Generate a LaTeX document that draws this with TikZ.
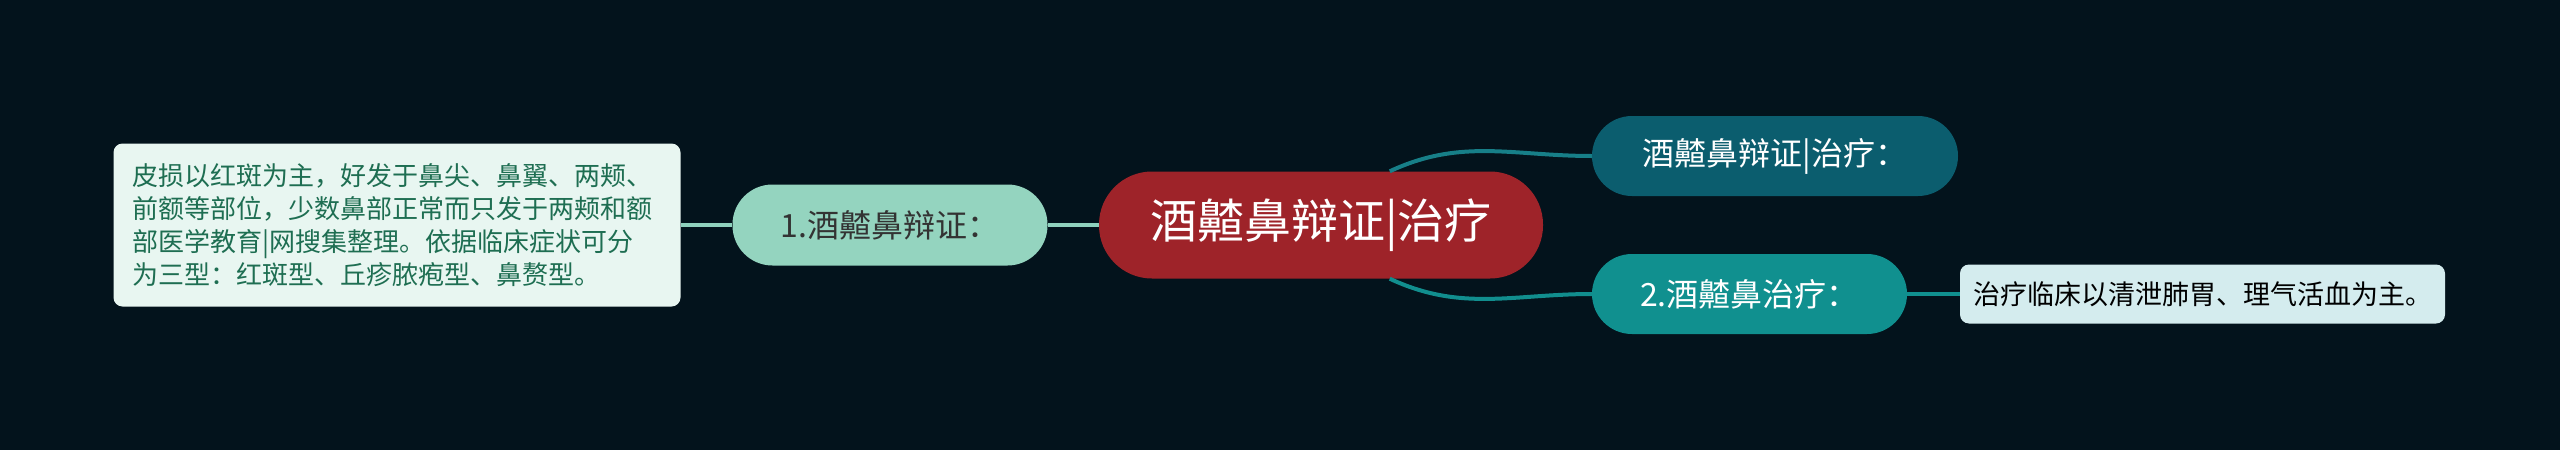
\documentclass[tikz,border=0pt]{standalone}
\usepackage{fontspec}
\setmainfont{Noto Sans CJK SC}
\usetikzlibrary{positioning}

\definecolor{bgdark}{HTML}{03131C}
\definecolor{rootred}{HTML}{9E2329}
\definecolor{mint}{HTML}{94D4BF}
\definecolor{mintline}{HTML}{8FD1BD}
\definecolor{darkteal}{HTML}{0B5D6E}
\definecolor{teal}{HTML}{10908F}
\definecolor{tealline}{HTML}{177F88}
\definecolor{boxfill}{HTML}{E8F6F1}
\definecolor{boxtext}{HTML}{1E6E52}
\definecolor{leaffill}{HTML}{D4ECEE}

\begin{document}
\begin{tikzpicture}[x=1pt,y=-1pt,node distance=400pt,on grid,
    topic/.style={rounded corners=#1,inner sep=0pt,font=\fontsize{32}{38}\selectfont},
    note/.style={rounded corners=9pt,inner ysep=0pt,align=left}]
    \fill[bgdark] (0,0) rectangle (2560,450);
    \useasboundingbox (0,0) rectangle (2560,450);
    \node[topic=53pt,fill=rootred,text=white,minimum width=444pt,minimum height=107pt,
          font=\fontsize{47}{52}\selectfont] (r_0) at (1321,225) {酒齄鼻辩证|治疗};
    \node[topic=40pt,fill=mint,text=black!80,minimum width=315pt,minimum height=81pt]
          (b_1) [left=431pt of r_0] {1.酒齄鼻辩证：};
    \node[note,fill=boxfill,text=boxtext,text width=530pt,inner xsep=18.5pt,minimum height=163pt,
          font=\fontsize{26}{33}\selectfont] (t_1) [left=493pt of b_1]
          {皮损以红斑为主，好发于鼻尖、鼻翼、两颊、\\前额等部位，少数鼻部正常而只发于两颊和额\\部医学教育|网搜集整理。依据临床症状可分\\为三型：红斑型、丘疹脓疱型、鼻赘型。};
    \node[topic=40pt,fill=darkteal,text=white,minimum width=366pt,minimum height=80pt]
          (b_2) [above right=69pt and 454pt of r_0] {酒齄鼻辩证|治疗：};
    \node[topic=40pt,fill=teal,text=white,minimum width=315pt,minimum height=80pt]
          (b_3) [below right=69pt and 428.5pt of r_0] {2.酒齄鼻治疗：};
    \node[note,fill=leaffill,text=black,minimum width=485pt,minimum height=59pt,
          font=\fontsize{27}{32}\selectfont] (t_2) [right=453pt of b_3] {治疗临床以清泄肺胃、理气活血为主。};
    \path[line width=4pt] (r_0.west) edge[mintline] (b_1.east)
                          (b_1.west) edge[mintline] (t_1.east)
                          (r_0.38)   edge[tealline,out=25,in=180] (b_2.west)
                          (r_0.-38)  edge[teal!85!tealline,out=-25,in=180] (b_3.west)
                          (b_3.east) edge[teal] (t_2.west);
\end{tikzpicture}
\end{document}
